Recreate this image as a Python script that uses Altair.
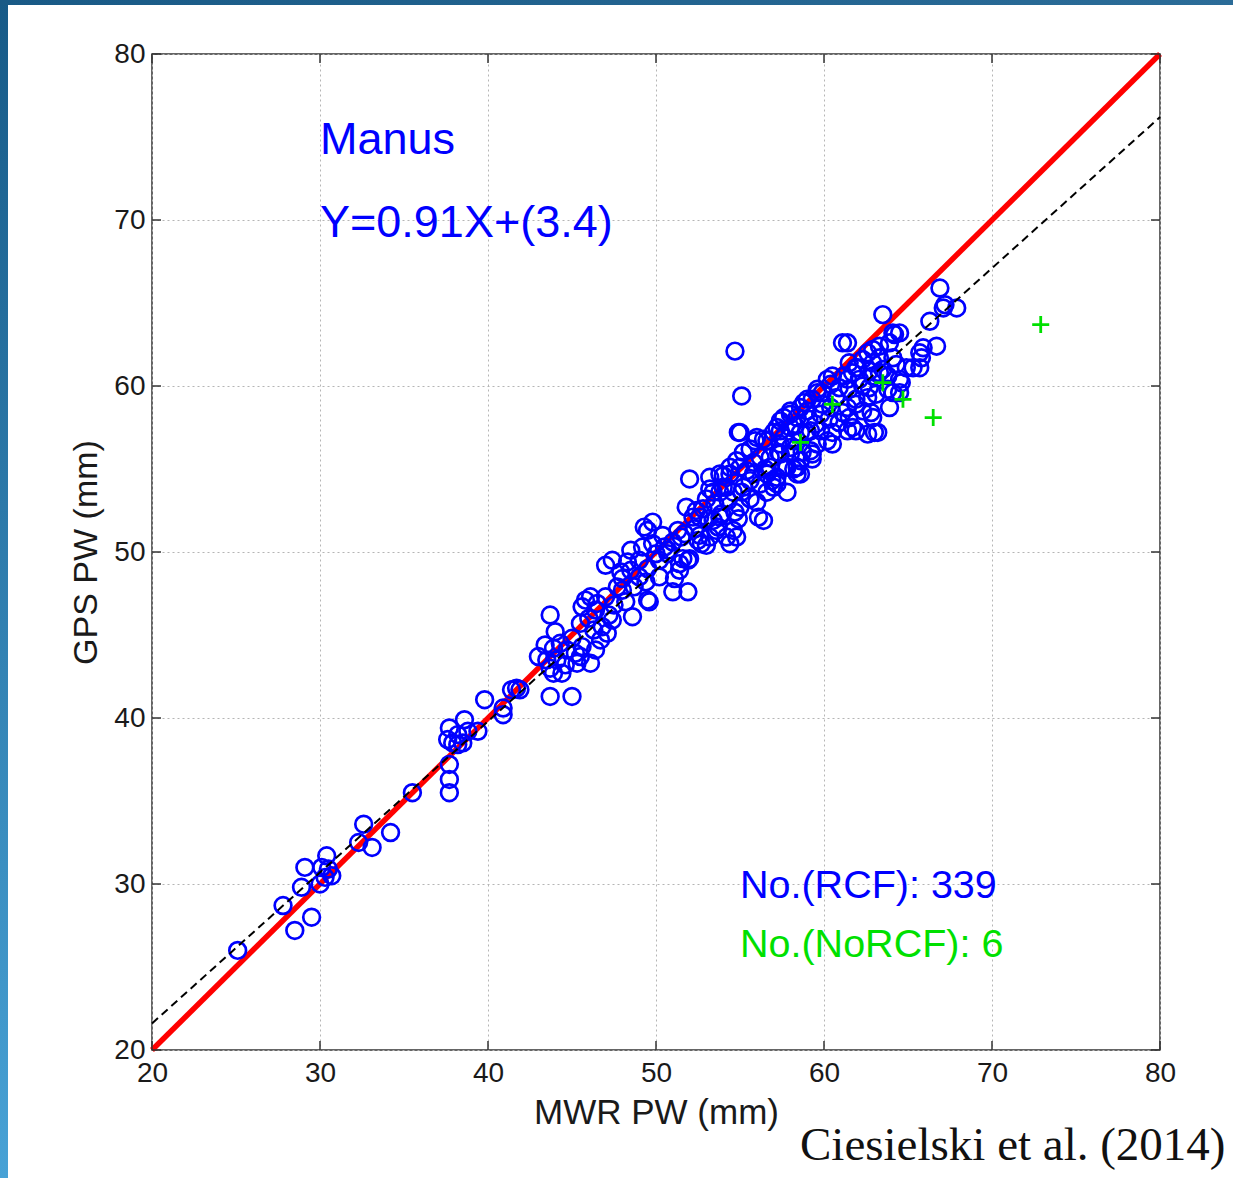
import altair as alt
import pandas as pd

# ---------------- data ----------------
x_ticks = [20, 30, 40, 50, 60, 70, 80]
y_ticks = [20, 30, 40, 50, 60, 70, 80]

rcf_low = [(25.1, 26.0), (27.8, 28.7), (28.5, 27.2), (28.9, 29.8), (29.1, 31.0), (29.5, 28.0),
           (30.0, 30.0), (30.1, 31.0), (30.3, 30.4), (30.4, 31.7), (30.5, 30.9), (30.7, 30.5),
           (32.3, 32.5), (32.6, 33.6), (33.1, 32.2), (34.2, 33.1), (35.5, 35.5),
           (37.7, 35.5), (37.7, 36.3), (37.7, 37.2), (37.6, 38.7), (37.9, 38.5), (37.7, 39.4),
           (38.2, 39.0), (38.5, 38.5), (38.6, 39.9), (38.8, 39.2), (39.4, 39.2), (38.2, 38.4),
           (39.8, 41.1), (40.9, 40.2), (40.9, 40.6), (41.4, 41.7), (41.9, 41.7), (41.7, 41.8)]

rcf_44 = [(43.7, 41.3), (45.0, 41.3), (43.7, 43.0), (44.1, 43.5), (44.6, 43.2), (43.9, 42.7),
          (44.4, 42.7), (43.5, 43.5), (43.9, 44.2), (44.7, 44.1), (45.2, 43.9), (44.3, 44.5),
          (43.7, 46.2), (45.5, 43.7), (46.1, 43.3), (45.8, 47.1), (46.1, 47.3), (45.6, 46.7),
          (46.4, 46.5), (46.3, 45.3), (46.8, 45.5), (47.1, 45.1), (46.7, 44.7), (47.4, 45.9),
          (45.0, 44.8), (45.5, 45.7), (46.0, 46.0), (46.4, 44.1), (45.3, 43.3), (43.0, 43.7),
          (43.4, 44.4), (44.0, 45.2), (45.6, 44.3)]

rcf_48 = [(47.0, 49.2), (47.4, 49.5), (47.9, 48.8), (48.3, 49.4), (48.5, 50.1), (47.7, 47.9),
          (48.0, 47.7), (48.7, 47.9), (48.6, 46.1), (49.5, 47.1), (49.0, 48.5), (49.3, 51.5),
          (49.8, 51.8), (49.2, 50.3), (49.8, 50.5), (50.2, 49.5), (50.7, 50.1), (51.1, 48.4),
          (51.0, 47.6), (51.9, 47.6), (51.4, 49.3), (52.0, 49.6), (51.3, 51.3), (51.7, 51.1),
          (51.6, 49.6), (51.9, 49.5), (49.6, 47.0), (49.5, 51.3), (51.4, 48.9), (50.2, 48.5),
          (50.7, 49.9), (46.5, 46.9), (47.0, 47.3), (47.5, 46.8), (48.0, 48.4), (48.5, 48.9),
          (49.0, 49.5), (49.5, 49.0), (50.0, 49.9), (50.5, 50.3), (51.0, 50.6), (51.5, 50.9),
          (50.4, 51.0), (49.4, 48.2), (48.2, 47.0), (47.2, 46.2)]

rcf_56 = [(52.4, 52.5), (52.7, 50.5), (53.2, 50.9), (53.4, 51.9), (55.0, 57.2), (56.0, 56.9),
          (55.2, 56.0), (52.0, 54.4), (53.2, 54.5), (54.4, 55.1), (57.8, 53.6), (56.4, 51.9),
          (56.1, 52.1), (54.6, 51.3), (54.2, 50.9), (54.8, 50.9), (53.0, 50.4), (52.6, 51.0),
          (55.6, 53.2), (53.8, 53.6), (53.0, 53.2), (52.6, 52.1), (53.8, 52.1), (55.2, 53.9),
          (55.8, 54.7), (56.8, 55.1), (57.4, 55.9), (56.6, 56.7), (57.4, 57.3), (57.8, 55.1),
          (57.2, 54.5), (56.6, 53.6), (54.2, 53.9), (55.0, 52.7), (53.6, 51.3), (54.4, 50.5),
          (52.2, 52.1), (53.4, 53.6), (51.8, 52.7), (54.7, 62.1), (55.1, 59.4), (54.9, 57.2),
          (55.9, 56.7), (53.8, 54.7), (57.0, 57.2), (56.2, 55.7), (56.8, 55.7), (57.4, 56.5),
          (57.6, 55.1), (56.6, 54.7), (55.6, 54.3), (55.0, 55.1), (54.4, 54.7), (54.0, 53.9),
          (54.6, 53.6), (57.2, 54.1), (57.6, 58.1), (57.4, 57.9), (58.0, 57.5)]

rcf_60 = [(58.4, 55.1), (58.6, 54.7), (59.3, 55.9), (60.2, 56.7), (58.2, 56.7), (59.0, 57.2),
          (58.4, 58.1), (58.0, 58.5), (58.6, 57.2), (59.2, 57.3), (59.8, 57.3), (60.5, 57.2),
          (60.9, 57.8), (61.5, 58.1), (59.8, 58.3), (60.4, 58.7), (61.4, 58.7), (61.9, 59.2),
          (59.3, 59.2), (59.0, 58.5), (60.2, 60.4), (59.9, 59.6), (60.9, 59.9), (61.4, 60.4),
          (61.5, 61.4), (61.9, 61.1), (61.4, 62.6), (61.1, 62.6), (60.5, 60.6), (59.6, 59.8),
          (59.0, 59.2), (58.6, 58.7), (58.0, 55.9), (58.6, 55.5), (59.2, 56.1), (59.6, 56.5),
          (58.4, 54.7), (61.7, 60.8), (61.4, 57.3), (61.9, 57.3)]

rcf_64 = [(62.6, 57.1), (62.9, 58.1), (62.3, 58.5), (62.6, 59.3), (62.7, 59.9), (62.1, 60.4),
          (63.0, 57.2), (63.9, 58.7), (63.5, 64.3), (64.1, 63.2), (64.5, 63.2), (65.3, 61.1),
          (65.7, 62.0), (66.7, 62.4), (66.3, 63.9), (67.1, 64.7), (67.9, 64.7), (64.5, 60.4),
          (64.3, 61.3), (63.8, 60.6), (64.1, 61.7), (63.3, 61.7), (62.9, 61.4), (62.9, 60.6),
          (63.3, 60.8), (63.8, 59.8), (64.1, 59.6), (64.5, 59.6), (64.9, 61.1), (65.7, 61.1),
          (63.9, 62.6), (62.9, 62.2), (63.3, 62.4), (62.6, 62.0), (62.3, 61.6), (66.9, 65.9),
          (67.2, 64.9), (64.2, 63.1), (65.9, 62.3), (65.8, 61.7), (64.6, 60.2), (63.2, 57.2)]

rcf_core = [(52.3, 51.4), (52.8, 52.6), (53.1, 52.0), (53.5, 52.9), (53.9, 52.3), (54.3, 53.1),
            (54.7, 52.4), (55.1, 53.6), (55.4, 54.9), (55.8, 55.4), (56.2, 54.1), (56.5, 55.0),
            (56.9, 54.3), (57.3, 56.0), (57.6, 56.9), (58.0, 56.3), (58.3, 57.6), (58.7, 56.0),
            (59.1, 58.0), (59.5, 57.7), (59.9, 58.9), (60.3, 58.0), (60.7, 59.3), (61.1, 58.4),
            (61.5, 59.8), (61.9, 58.9), (62.3, 60.0), (62.7, 60.9), (63.1, 59.5), (63.5, 61.0),
            (53.2, 53.8), (54.0, 54.6), (54.8, 55.5), (55.6, 56.2), (56.4, 56.8), (57.2, 57.5),
            (58.0, 58.3), (58.8, 59.0), (59.6, 59.6), (60.4, 60.1), (61.2, 60.6), (62.0, 61.1),
            (52.5, 50.7), (53.7, 51.5), (54.9, 52.0), (56.0, 53.0), (57.0, 53.9), (58.2, 55.0),
            (59.3, 55.6), (60.5, 56.5), (61.7, 57.5), (62.8, 58.4)]

norcf_mwr = [72.9, 66.5, 64.7, 63.5, 60.5, 58.6]
norcf_gps = [63.7, 58.1, 59.2, 60.2, 58.9, 56.6]

one_to_one_mwr = [20, 80]
one_to_one_gps = [20, 80]
fit_mwr = [20, 80]
fit_gps = [21.6, 76.2]   # Y = 0.91X + 3.4

site_label = "Manus"
fit_label = "Y=0.91X+(3.4)"
count_labels = ["No.(RCF): 339", "No.(NoRCF): 6"]
count_pos_mwr = [55.0, 55.0]
count_pos_gps = [29.15, 25.6]
citation = "Ciesielski et al. (2014)"

# ---------------- chart ----------------
W, H = 1008, 996
FONT = "Liberation Sans"
BLUE = "#0000ff"
GREEN = "#00e000"

rcf = rcf_low + rcf_44 + rcf_48 + rcf_56 + rcf_60 + rcf_64 + rcf_core
rcf_df = pd.DataFrame(rcf, columns=["mwr", "gps"])
norcf_df = pd.DataFrame({"mwr": norcf_mwr, "gps": norcf_gps})
one_df = pd.DataFrame({"mwr": one_to_one_mwr, "gps": one_to_one_gps})
fit_df = pd.DataFrame({"mwr": fit_mwr, "gps": fit_gps})

xs = alt.Scale(domain=[20, 80], nice=False, zero=False)
ys = alt.Scale(domain=[20, 80], nice=False, zero=False)

x_axis = alt.Axis(values=x_ticks, title="MWR PW (mm)", grid=True, gridDash=[2, 3],
                  gridColor="#b5b5b5", gridWidth=1, ticks=False, domain=False,
                  labelFont=FONT, labelFontSize=28, labelColor="#1a1a1a", labelPadding=9,
                  labelFlush=False, titleFont=FONT, titleFontSize=35, titleFontWeight="normal",
                  titleColor="#1a1a1a", titlePadding=8)
y_axis = alt.Axis(values=y_ticks, title="GPS PW (mm)", grid=True, gridDash=[2, 3],
                  gridColor="#b5b5b5", gridWidth=1, ticks=False, domain=False,
                  labelFont=FONT, labelFontSize=28, labelColor="#1a1a1a", labelPadding=7,
                  labelFlush=False, titleFont=FONT, titleFontSize=34, titleFontWeight="normal",
                  titleColor="#1a1a1a", titlePadding=10)


def X(field="mwr"):
    return alt.X(f"{field}:Q", scale=xs, axis=x_axis)


def Y(field="gps"):
    return alt.Y(f"{field}:Q", scale=ys, axis=y_axis)


red_line = alt.Chart(one_df).mark_line(color="#ff0000", strokeWidth=5.5).encode(x=X(), y=Y())

circles = alt.Chart(rcf_df).mark_point(shape="circle", filled=False, size=280, strokeWidth=2.7,
                                       color=BLUE, opacity=1).encode(x=X(), y=Y())

fit_line = alt.Chart(fit_df).mark_line(color="black", strokeWidth=2, strokeDash=[8, 5]).encode(
    x=X(), y=Y())

crosses = alt.Chart(norcf_df).mark_point(shape="M-1,0H1M0,-1V1", filled=False, size=290,
                                         strokeWidth=2.8, color=GREEN, opacity=1).encode(
    x=X(), y=Y())

ann_df = pd.DataFrame({"mwr": [30.0, 30.0], "gps": [74.0, 69.0],
                       "label": [site_label, fit_label]})
ann_site = alt.Chart(ann_df.iloc[[0]]).mark_text(font=FONT, fontSize=45, color=BLUE, align="left",
                                                 baseline="alphabetic").encode(
    x=X(), y=Y(), text="label:N")
ann_fit = alt.Chart(ann_df.iloc[[1]]).mark_text(font=FONT, fontSize=45, color=BLUE, align="left",
                                                baseline="alphabetic").encode(
    x=X(), y=Y(), text="label:N")

cnt_df = pd.DataFrame({"mwr": count_pos_mwr, "gps": count_pos_gps, "label": count_labels,
                       "kind": ["RCF", "NoRCF"]})
counts = alt.Chart(cnt_df).mark_text(font=FONT, fontSize=39.5, align="left",
                                     baseline="alphabetic").encode(
    x=X(), y=Y(), text="label:N",
    color=alt.Color("kind:N", scale=alt.Scale(domain=["RCF", "NoRCF"], range=[BLUE, GREEN]),
                    legend=None))

cite = alt.Chart(pd.DataFrame({"label": [citation]})).mark_text(
    font="Liberation Serif", fontSize=47, color="#111111", align="left",
    baseline="alphabetic").encode(x=alt.value(648), y=alt.value(1106), text="label:N")

# inward MATLAB-style ticks on all four sides
xt_df = pd.DataFrame({"mwr": x_ticks})
yt_df = pd.DataFrame({"gps": y_ticks})
TK = dict(color="#333333", strokeWidth=1.5)
tick_b = alt.Chart(xt_df).mark_rule(**TK).encode(x=X(), y=alt.value(H), y2=alt.value(H - 9))
tick_t = alt.Chart(xt_df).mark_rule(**TK).encode(x=X(), y=alt.value(0), y2=alt.value(9))
tick_l = alt.Chart(yt_df).mark_rule(**TK).encode(y=Y(), x=alt.value(0), x2=alt.value(9))
tick_r = alt.Chart(yt_df).mark_rule(**TK).encode(y=Y(), x=alt.value(W), x2=alt.value(W - 9))

# slide decoration (blue border strips)
deco_df = pd.DataFrame({"a": [0]})
left_strip = alt.Chart(deco_df).mark_rect(
    color=alt.LinearGradient(gradient="linear",
                             stops=[alt.GradientStop(offset=0, color="#175a87"),
                                    alt.GradientStop(offset=1, color="#48a2d6")],
                             x1=0, x2=0, y1=0, y2=1)).encode(
    x=alt.value(-152), x2=alt.value(-144), y=alt.value(-54), y2=alt.value(1124))
top_strip = alt.Chart(deco_df).mark_rect(
    color=alt.LinearGradient(gradient="linear",
                             stops=[alt.GradientStop(offset=0, color="#195a86"),
                                    alt.GradientStop(offset=1, color="#2b6c98")],
                             x1=0, x2=1, y1=0, y2=0)).encode(
    x=alt.value(-152), x2=alt.value(1081), y=alt.value(-54), y2=alt.value(-49))

chart = alt.layer(
    red_line, circles, fit_line, crosses, ann_site, ann_fit, counts, cite,
    tick_b, tick_t, tick_l, tick_r, left_strip, top_strip
).properties(
    width=W, height=H,
    padding={"left": 152, "top": 54, "right": 73, "bottom": 128},
    autosize=alt.AutoSizeParams(type="none"),
    background="white",
).configure_view(stroke="#333333", strokeWidth=1.5)

chart.save("out.html", embed_options={"renderer": "svg", "actions": False})
